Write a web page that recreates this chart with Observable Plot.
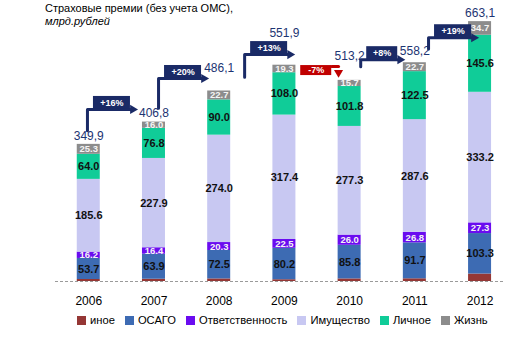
<!DOCTYPE html>
<html><head><meta charset="utf-8">
<script src="https://cdn.jsdelivr.net/npm/d3@7"></script>
<script src="https://cdn.jsdelivr.net/npm/@observablehq/plot@0.6"></script>
<style>
body{margin:0;background:#fff;font-family:"Liberation Sans",Arial,sans-serif;}
#wrap{position:relative;width:505px;height:355px;overflow:hidden;}
#title{position:absolute;left:45px;top:2px;font-size:11px;line-height:13px;color:#000;}
#legend{position:absolute;left:77px;top:313px;display:flex;gap:10px;font-size:11.2px;line-height:14px;color:#000;white-space:nowrap;}
.item{display:flex;align-items:center;gap:4px}
.sw{width:9px;height:9px;display:inline-block}
</style></head><body>
<div id="wrap"><div id="chart"></div>
<div id="title">Страховые премии (без учета ОМС),<br><i>млрд.рублей</i></div>
<div id="legend"></div></div>
<script>
// ---- data ----
const years = [2006, 2007, 2008, 2009, 2010, 2011, 2012];
const categories = ["иное", "ОСАГО", "Ответственность", "Имущество", "Личное", "Жизнь"];
const inoe   = [5.1, 5.8, 6.6, 4.5, 6.6, 6.9, 19.0];
const osago  = [53.7, 63.9, 72.5, 80.2, 85.8, 91.7, 103.3];
const otv    = [16.2, 16.4, 20.3, 22.5, 26.0, 26.8, 27.3];
const imush  = [185.6, 227.9, 274.0, 317.4, 277.3, 287.6, 333.2];
const lichn  = [64.0, 76.8, 90.0, 108.0, 101.8, 122.5, 145.6];
const zhizn  = [25.3, 16.0, 22.7, 19.3, 15.7, 22.7, 34.7];
const totals = [349.9, 406.8, 486.1, 551.9, 513.2, 558.2, 663.1];
const growthLabels = ["+16%", "+20%", "+13%", "-7%", "+8%", "+19%"];

// ---- annotation placement (callout arrows / total labels) ----
const arrowLevel = [439, 518, 579, 551, 566, 622];
const arrowStart = [-0.02, 0.07, 0.39, 0.25, 0.17, 0.21];
const totalLift  = [22, 22, 57, 83, 63, 29, 21];

// ---- styles ----
const colors = ["#953735", "#3d6bb3", "#6a0cf0", "#c8c8f2", "#10cc98", "#8c8c8c"];
const navy = "#1a2a66", red = "#c00000", labelNavy = "#1c3472";

const W = 505, H = 310, mL = 55, mB = 29, mT = 0;
const xDom = [2005.49, 2012.39], yDom = [0, 717];
const kx = (W - mL) / (xDom[1] - xDom[0]);
const ky = (H - mB - mT) / (yDom[1] - yDom[0]);
const px2x = p => p / kx, px2y = p => p / ky;

const series = [inoe, osago, otv, imush, lichn, zhizn];
const rows = [];
years.forEach((yr, i) => {
  let acc = 0;
  series.forEach((s, j) => {
    rows.push({year: yr, cat: categories[j], value: s[i], y1: acc, y2: acc + s[i]});
    acc += s[i];
  });
});
const half = px2x(11.5);

// arrows
const paths = [], boxes = [], heads = [];
growthLabels.forEach((g, i) => {
  const up = !g.startsWith("-");
  const L = arrowLevel[i];
  const bw = px2x(6 * g.length + 13);
  if (up) {
    const vx = years[i] + arrowStart[i];
    const bx1 = vx + px2x(6), bx2 = bx1 + bw;
    paths.push({id: i, x: vx, y: totals[i] + 35, c: navy});
    paths.push({id: i, x: vx, y: L, c: navy});
    paths.push({id: i, x: bx2, y: L, c: navy});
    boxes.push({x1: bx1, x2: bx2, y1: L, y2: L + px2y(13), fill: navy, text: g});
    heads.push({x: bx2 + px2x(2.3), y: L, rot: 90, fill: navy});
  } else {
    const bx1 = years[i] + arrowStart[i], bx2 = bx1 + bw;
    const tip = years[i] + 0.83;
    paths.push({id: i, x: bx2, y: L - px2y(1), c: red});
    paths.push({id: i, x: tip, y: L - px2y(1), c: red});
    boxes.push({x1: bx1, x2: bx2, y1: L - px2y(10), y2: L, fill: red, text: g});
    heads.push({x: tip, y: L - px2y(7), rot: 180, fill: red});
  }
});

const totalsData = years.map((yr, i) => ({year: yr, total: totals[i], lift: totalLift[i]}));
const darkLab = rows.filter(d => ["ОСАГО", "Имущество", "Личное"].includes(d.cat));
const lightLab = rows.filter(d => ["Ответственность", "Жизнь"].includes(d.cat));

const chart = Plot.plot({
  width: W, height: H, marginLeft: mL, marginRight: 0, marginTop: mT, marginBottom: mB,
  x: {domain: xDom},
  y: {domain: yDom, axis: null},
  color: {domain: categories, range: colors},
  style: {fontFamily: "Liberation Sans, Arial, sans-serif", fontSize: "12px", overflow: "visible", background: "transparent"},
  marks: [
    Plot.ruleY([0], {stroke: "#9a9a9a", strokeDasharray: "3,2"}),
    Plot.rect(rows, {x1: d => d.year - half, x2: d => d.year + half, y1: "y1", y2: "y2", fill: "cat"}),
    Plot.text(darkLab, {x: "year", y: d => (d.y1 + d.y2) / 2, text: d => d.value.toFixed(1), fill: "#111", fontSize: 11, fontWeight: "bold"}),
    Plot.text(lightLab, {x: "year", y: d => (d.y1 + d.y2) / 2, text: d => d.value.toFixed(1), fill: "#f4f4f4", fontSize: 9.5, fontWeight: "bold"}),
    Plot.text(totalsData, {x: "year", y: d => d.total + d.lift, text: d => d.total.toFixed(1).replace(".", ","), fill: labelNavy, fontSize: 12}),
    Plot.line(paths, {x: "x", y: "y", z: "id", stroke: "c", strokeWidth: 3, curve: "linear"}),
    Plot.rect(boxes, {x1: "x1", x2: "x2", y1: "y1", y2: "y2", fill: "fill"}),
    Plot.text(boxes, {x: d => (d.x1 + d.x2) / 2, y: d => (d.y1 + d.y2) / 2, text: "text", fill: "white", fontSize: 9, fontWeight: "bold"}),
    Plot.dot(heads, {x: "x", y: "y", symbol: "triangle", r: 3.4, rotate: "rot", fill: "fill"}),
    Plot.axisX(years, {tickSize: 0, tickPadding: 15, tickFormat: d => String(d), fontSize: 12, label: null, fill: "#000"})
  ]
});
document.getElementById("chart").appendChild(chart);

const leg = document.getElementById("legend");
categories.forEach((c, i) => {
  const it = document.createElement("span");
  it.className = "item";
  it.innerHTML = `<span class="sw" style="background:${colors[i]}"></span><span>${c}</span>`;
  leg.appendChild(it);
});
</script>
</body></html>
